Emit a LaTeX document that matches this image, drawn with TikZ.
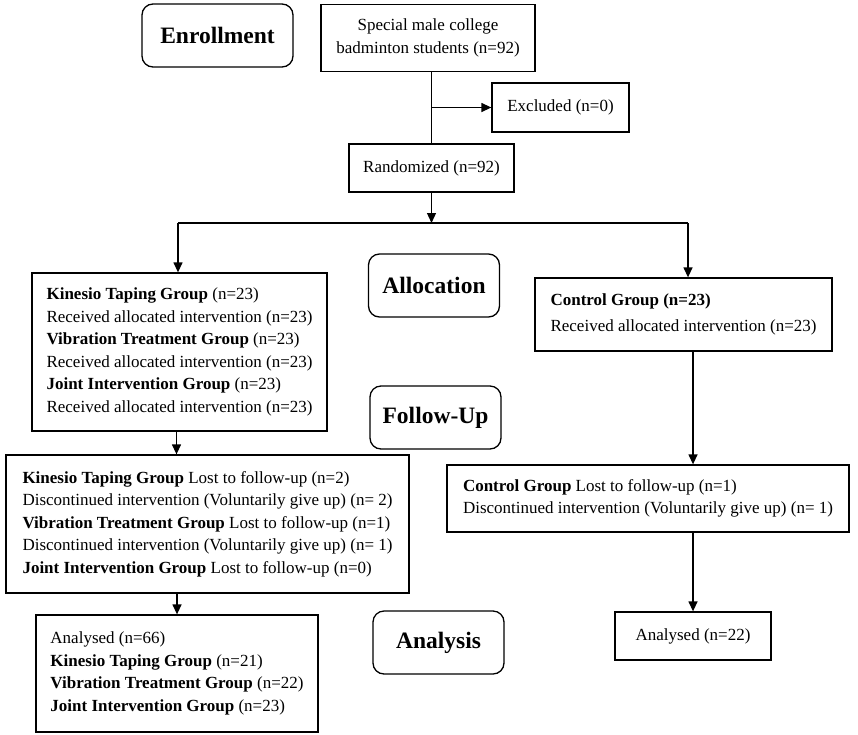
\documentclass[tikz,border=0pt]{standalone}
\usepackage{fontspec}
\setmainfont{Liberation Serif}
\usetikzlibrary{arrows.meta}
\tikzset{>={Triangle[length=10pt,width=9pt]}}
\tikzset{
  box/.style={draw, line width=1.3pt, inner sep=0pt, align=left,
    font=\fontsize{17}{22.5}\selectfont},
  stage/.style={box, rounded corners=11pt, minimum width=131pt, minimum height=63pt,
    font=\fontsize{23.5}{28}\selectfont\bfseries},
  link/.style={line width=1.3pt}
}

\begin{document}
\begin{tikzpicture}[x=1pt, y=-1pt]
\useasboundingbox (0,0) rectangle (858,734);

\node[stage, minimum width=151pt] (enroll) at (217.5,35.5) {Enrollment};
\node[stage] (alloc) at (434,285.5) {Allocation};
\node[stage] (follow) at (435.5,417.5) {Follow-Up};
\node[stage] (analysis) at (438.5,642.5) {Analysis};

\node[box, align=center, minimum width=214pt, minimum height=67pt,
  font=\fontsize{17}{23}\selectfont] (pool) at (428,38) {Special male college\\badminton students (n=92)};
\node[box, minimum width=137pt, minimum height=49pt] (excl) at (560.5,107.5) {Excluded (n=0)};
\node[box, minimum width=165pt, minimum height=48pt] (rand) at (431.5,168) {Randomized (n=92)};

\node[box, minimum width=295pt, minimum height=158pt] (galloc) at (179.5,352) {%
  \textbf{Kinesio Taping Group} (n=23)\\
  Received allocated intervention (n=23)\\
  \textbf{Vibration Treatment Group} (n=23)\\
  Received allocated intervention (n=23)\\
  \textbf{Joint Intervention Group} (n=23)\\
  Received allocated intervention (n=23)};
\node[box, minimum width=297pt, minimum height=73pt,
  font=\fontsize{17}{26}\selectfont] (ctrl) at (683.5,314.5) {%
  \textbf{Control Group (n=23)}\\
  Received allocated intervention (n=23)};

\node[box, minimum width=403pt, minimum height=138pt] (gfollow) at (207.5,524) {%
  \textbf{Kinesio Taping Group} Lost to follow-up (n=2)\\
  Discontinued intervention (Voluntarily give up) (n= 2)\\
  \textbf{Vibration Treatment Group} Lost to follow-up (n=1)\\
  Discontinued intervention (Voluntarily give up) (n= 1)\\
  \textbf{Joint Intervention Group} Lost to follow-up (n=0)};
\node[box, minimum width=402pt, minimum height=67pt] (cfollow) at (648,498.5) {%
  \textbf{Control Group} Lost to follow-up (n=1)\\
  Discontinued intervention (Voluntarily give up) (n= 1)};

\node[box, minimum width=282pt, minimum height=117pt] (ganal) at (177,673.5) {%
  Analysed (n=66)\\
  \textbf{Kinesio Taping Group} (n=21)\\
  \textbf{Vibration Treatment Group} (n=22)\\
  \textbf{Joint Intervention Group} (n=23)};
\node[box, minimum width=156pt, minimum height=48pt] (canal) at (693,636) {Analysed (n=22)};

\coordinate (split) at (431.5,223);
\coordinate (splitL) at (178,223);
\coordinate (splitR) at (688,223);

\draw[link] (pool.south -| rand.north) -- (rand.north);
\draw[link, ->] (excl.west -| rand.north) -- (excl.west);
\draw[link, ->] (rand.south) -- (split);
\draw[link] (splitL) -- (splitR);
\draw[link, ->] (splitL) -- (splitL |- galloc.north);
\draw[link, ->] (splitR) -- (splitR |- ctrl.north);
\draw[link, ->] ([xshift=-3pt]galloc.south) -- ([xshift=-3pt]galloc.south |- gfollow.north);
\draw[link, ->] (ganal.north |- gfollow.south) -- (ganal.north);
\draw[link, ->] (ctrl.south -| canal.north) -- (cfollow.north -| canal.north);
\draw[link, ->] (cfollow.south -| canal.north) -- (canal.north);
\end{tikzpicture}
\end{document}
